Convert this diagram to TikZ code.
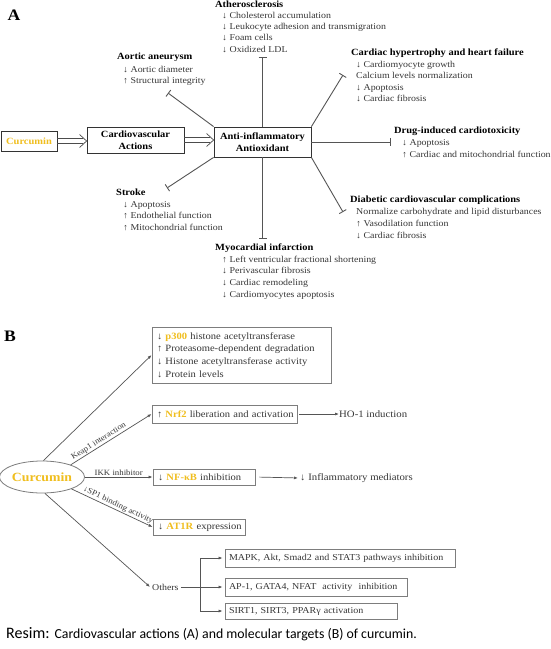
\documentclass[tikz,border=0pt]{standalone}
\usepackage{fontspec}
\setmainfont[FakeStretch=1.1]{Liberation Serif}
\newfontfamily\capfont{Carlito}
\usetikzlibrary{arrows.meta,shapes.geometric,calc}
\definecolor{gold}{RGB}{240,190,30}
\definecolor{txt}{RGB}{55,55,55}
\definecolor{ln}{RGB}{85,85,85}
\definecolor{bx}{RGB}{125,125,125}
\tikzset{
  panel/.style={font=\fontsize{16}{16}\selectfont\bfseries, inner sep=0},
  atitle/.style={font=\fontsize{9.5}{11}\selectfont\bfseries, inner sep=0, anchor=west, text height=7pt, text depth=2pt},
  abody/.style={font=\fontsize{9}{11}\selectfont, text=txt, inner sep=0, anchor=west, text height=6.5pt, text depth=2pt},
  abox/.style={draw=black!80, line width=0.8pt, font=\fontsize{9.5}{11.5}\selectfont\bfseries, align=center, inner sep=0},
  dl/.style={draw=black!70, line width=0.7pt, line join=miter},
  tbar/.style={draw=ln, line width=0.9pt, -{Bar[width=8pt,line width=0.9pt]}},
  bbox/.style={draw=bx, line width=0.8pt, align=left, text=txt, inner xsep=5pt, inner ysep=0pt, font=\fontsize{9.6}{12.6}\selectfont},
  sbox/.style={draw=bx, line width=0.8pt, align=left, text=txt, inner xsep=4pt, inner ysep=0pt, font=\fontsize{9.1}{11}\selectfont},
  arr/.style={draw=ln, line width=0.7pt, -{Latex[length=4pt,width=3pt]}},
  lab/.style={font=\fontsize{8}{9}\selectfont, text=txt, inner sep=1pt},
}
\newcommand{\hl}[1]{\textcolor{gold}{\textbf{#1}}}
\newcommand{\dblarr}[3]{% from node, to node, name of tip coordinate
  \coordinate (#3) at (#2.west|-#1.east);
  \draw[dl] ($(#1.east)+(0,-2.5)$) -- ($(#3)+(-3.5,-2.5)$);
  \draw[dl] ($(#1.east)+(0,2.5)$) -- ($(#3)+(-3.5,2.5)$);
  \draw[dl] ($(#3)+(-7,-6.5)$) -- (#3) -- ($(#3)+(-7,6.5)$);
}
\begin{document}
\begin{tikzpicture}[x=1pt,y=-1pt]
\useasboundingbox (0,0) rectangle (550,649);
\fill[white] (0,0) rectangle (550,649);

% ---------------- Panel A ----------------
\node[panel] (A) at (14,15) {A};

\node[abox, minimum width=56, minimum height=20] (curA) at (29,141) {\textcolor{gold}{Curcumin}};
\node[abox, minimum width=97, minimum height=26] (cardio) at (135.5,140) {Cardiovascular\\Actions};
\node[abox, minimum width=97, minimum height=30] (anti) at (262.5,142) {Anti-inflammatory\\Antioxidant};

\dblarr{curA}{cardio}{h1}
\dblarr{cardio}{anti}{h2}

% T-bar endpoints
\coordinate (tAth) at (262.5,57);
\coordinate (tAor) at (168,93);
\coordinate (tCar) at (343,75);
\coordinate (tDrug) at (391,142);
\coordinate (tDia) at (343,212);
\coordinate (tStr) at (167,188);
\coordinate (tMI) at (262.5,239);

\draw[tbar] (anti.north) -- (tAth);
\draw[tbar] (anti.north west) -- (tAor);
\draw[tbar] (anti.north east) -- (tCar);
\draw[tbar] (anti.east) -- (tDrug);
\draw[tbar] (anti.south east) -- (tDia);
\draw[tbar] (anti.south west) -- (tStr);
\draw[tbar] (anti.south) -- (tMI);

% Atherosclerosis
\node[atitle] (athT) at (215,5) {Atherosclerosis};
\foreach \t [count=\i from 0] in {{↓ Cholesterol accumulation},{↓ Leukocyte adhesion and transmigration},{↓ Foam cells},{↓ Oxidized LDL}}
  \node[abody] (ath\i) at (222,{16+11.3*\i}) {\t};

% Aortic aneurysm
\node[atitle] (aorT) at (117,57) {Aortic aneurysm};
\foreach \t [count=\i from 0] in {{↓ Aortic diameter},{↑ Structural integrity}}
  \node[abody] (aor\i) at (123,{70+11.3*\i}) {\t};

% Cardiac hypertrophy
\node[atitle] (carT) at (351,53) {Cardiac hypertrophy and heart failure};
\foreach \t [count=\i from 0] in {{↓ Cardiomyocyte growth},{Calcium levels normalization},{↓ Apoptosis},{↓ Cardiac fibrosis}}
  \node[abody] (car\i) at (356,{65+11.5*\i}) {\t};

% Drug-induced
\node[atitle] (drugT) at (394,131) {Drug-induced cardiotoxicity};
\foreach \t [count=\i from 0] in {{↓ Apoptosis},{↑ Cardiac and mitochondrial function}}
  \node[abody] (drug\i) at (402,{143+12*\i}) {\t};

% Diabetic
\node[atitle] (diaT) at (350,200) {Diabetic cardiovascular complications};
\foreach \t [count=\i from 0] in {{Normalize carbohydrate and lipid disturbances},{↑ Vasodilation function},{↓ Cardiac fibrosis}}
  \node[abody] (dia\i) at (356,{212+12*\i}) {\t};

% Stroke
\node[atitle] (strT) at (116,193) {Stroke};
\foreach \t [count=\i from 0] in {{↓ Apoptosis},{↑ Endothelial function},{↑ Mitochondrial function}}
  \node[abody] (str\i) at (123,{205+11.5*\i}) {\t};

% Myocardial infarction
\node[atitle] (miT) at (215,248) {Myocardial infarction};
\foreach \t [count=\i from 0] in {{↑ Left ventricular fractional shortening},{↓ Perivascular fibrosis},{↓ Cardiac remodeling},{↓ Cardiomyocytes apoptosis}}
  \node[abody] (mi\i) at (222,{260+11.7*\i}) {\t};

% ---------------- Panel B ----------------
\node[panel] (B) at (10,336) {B};

\node[ellipse, draw=bx, line width=0.8pt, minimum width=79, minimum height=32, inner sep=0,
      font=\fontsize{12.5}{12.5}\selectfont\bfseries, text=gold] (cur) at (42,477) {Curcumin};

\node[bbox, text width=169, minimum height=56] (p300) at (241.5,355)
  {↓ \hl{p300} histone acetyltransferase\\ ↑ Proteasome-dependent degradation\\ ↓ Histone acetyltransferase activity\\ ↓ Protein levels};
\node[bbox, text width=135, minimum height=18] (nrf) at (224.5,414) {\mbox{↑ \hl{Nrf2} liberation and activation}};
\node[bbox, text width=92, minimum height=16] (nfkb) at (204,477) {\mbox{↓ \hl{NF-κB} inhibition}};
\node[bbox, text width=82, minimum height=16] (at1r) at (199,527) {\mbox{↓ \hl{AT1R} expression}};

\node[anchor=west, inner sep=0, text=txt, font=\fontsize{9.8}{12}\selectfont] (ho) at (339,414) {HO-1 induction};
\node[anchor=west, inner sep=0, text=txt, font=\fontsize{9.8}{12}\selectfont] (infl) at (300,478) {↓ Inflammatory mediators};
\node[anchor=west, inner sep=2pt, text=txt, font=\fontsize{9}{11}\selectfont] (oth) at (150,587) {Others};

\node[sbox, text width=222, minimum height=18] (mapk) at (340,558) {\mbox{MAPK, Akt, Smad2 and STAT3 pathways inhibition}};
\node[sbox, text width=174, minimum height=18] (ap1) at (316,587) {\mbox{AP-1, GATA4, NFAT\ \ activity\ \ inhibition}};
\node[sbox, text width=164, minimum height=16] (sirt) at (311,611) {\mbox{SIRT1, SIRT3, PPARγ activation}};

\draw[arr] (cur.85) -- (p300.west);
\draw[arr] (cur.23) -- node[lab, sloped, above, pos=0.38] (keap) {Keap1 interaction} (nrf.west);
\draw[arr] (cur.east) -- node[lab, above, pos=0.5] (ikk) {IKK inhibitor} (nfkb.west);
\draw[arr] (cur.-22) -- node[lab, sloped, above, pos=0.55] (sp1) {↓SP1 binding activity} (at1r.west);
\draw[arr] (cur.-80) -- (oth.west);

\draw[arr, shorten <=2pt] (nrf.east) -- (ho.west);
\draw[arr, shorten <=4pt, shorten >=2pt] (nfkb.east) -- (infl.west);

\coordinate (br) at (200,587);
\draw[draw=ln, line width=0.7pt] (oth.east) -- (br);
\draw[arr, shorten >=2pt] (br) |- (mapk.west);
\draw[arr, shorten >=2pt] (br) -- (ap1.west);
\draw[arr, shorten >=2pt] (br) |- (sirt.west);

% caption
\node[anchor=base west, inner sep=0] (cap) at (6,638)
  {{\capfont\fontsize{16}{16}\selectfont Resim:}\hspace{5pt}{\capfont\fontsize{13.8}{13.8}\selectfont Cardiovascular actions (A) and molecular targets (B) of curcumin.}};
\end{tikzpicture}
\end{document}
